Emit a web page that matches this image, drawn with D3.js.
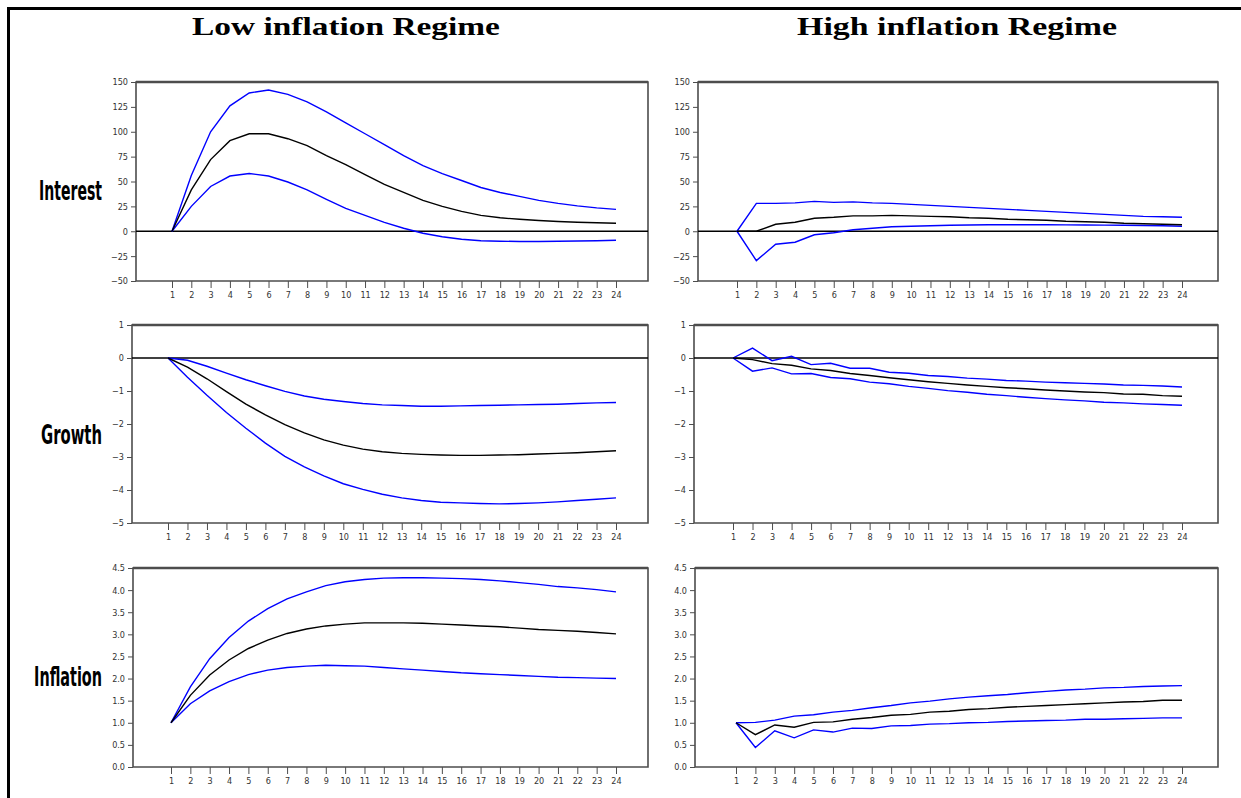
<!DOCTYPE html>
<html>
<head>
<meta charset="utf-8">
<script src="https://cdn.jsdelivr.net/npm/d3@7"></script>
<style>
  body { margin: 0; background: #fff; }
  svg { display: block; }
</style>
</head>
<body>
<svg id="chart" width="1241" height="798"></svg>
<script>
// horizon (periods) and labels
const periods = [1,2,3,4,5,6,7,8,9,10,11,12,13,14,15,16,17,18,19,20,21,22,23,24];
const regimes = ["Low inflation Regime", "High inflation Regime"];
const variables = ["Interest", "Growth", "Inflation"];

const interestTicks = [-50,-25,0,25,50,75,100,125,150];
const growthTicks = [-5,-4,-3,-2,-1,0,1];
const inflationTicks = [0,0.5,1,1.5,2,2.5,3,3.5,4,4.5];

// Interest responses
const intLowMid = [0,41.5,72,91,98,98,93,86,76,67,57,47,39,31,25,20,16,13.5,12,10.8,9.8,9,8.5,8];
const intLowUp  = [0,56,100,126,139,142,137.5,130,120,109,98,87,76,66,58,51,44,39,35,31,28,25.5,23.5,22];
const intLowLo  = [0,25,45,55.5,58,55.5,49.5,41.5,32,23,16,9,3,-2,-5.5,-8,-9.5,-10,-10.3,-10.3,-10,-9.8,-9.5,-9];
const intHighMid = [0,0,7,9,13,14,15.5,15.5,16,15.5,15,14.5,13.5,13,12,11.5,11,10,9.5,9,8,7.5,7,6.5];
const intHighUp  = [0,28,28,28.5,30,29,29.5,28.5,28,27,26,25,24,23,22,21,20,19,18,17,16,15,14.5,14];
const intHighLo  = [0,-29.5,-13,-11,-3.5,-1.5,1.5,3,4.5,5,5.5,6,6.3,6.5,6.5,6.5,6.5,6.4,6.3,6.2,6,5.8,5.5,5];

// Growth responses
const growLowMid = [0,-0.28,-0.63,-1.02,-1.4,-1.72,-2.02,-2.27,-2.48,-2.64,-2.76,-2.84,-2.89,-2.92,-2.94,-2.95,-2.95,-2.94,-2.93,-2.91,-2.89,-2.87,-2.84,-2.81];
const growLowUp  = [0,-0.07,-0.25,-0.46,-0.66,-0.84,-1.01,-1.15,-1.25,-1.32,-1.38,-1.42,-1.44,-1.46,-1.46,-1.45,-1.44,-1.43,-1.42,-1.41,-1.4,-1.38,-1.36,-1.35];
const growLowLo  = [0,-0.58,-1.13,-1.65,-2.13,-2.58,-2.98,-3.3,-3.57,-3.81,-3.98,-4.13,-4.24,-4.32,-4.37,-4.39,-4.41,-4.42,-4.41,-4.39,-4.36,-4.32,-4.28,-4.24];
const growHighMid = [0,-0.05,-0.17,-0.22,-0.33,-0.38,-0.47,-0.53,-0.6,-0.66,-0.72,-0.77,-0.82,-0.86,-0.9,-0.93,-0.97,-1.0,-1.03,-1.05,-1.09,-1.1,-1.14,-1.16];
const growHighUp  = [0,0.3,-0.08,0.05,-0.2,-0.16,-0.31,-0.31,-0.43,-0.46,-0.53,-0.56,-0.61,-0.64,-0.68,-0.7,-0.73,-0.75,-0.77,-0.79,-0.82,-0.83,-0.85,-0.88];
const growHighLo  = [0,-0.4,-0.3,-0.48,-0.47,-0.59,-0.63,-0.73,-0.78,-0.86,-0.92,-0.99,-1.04,-1.1,-1.14,-1.19,-1.23,-1.27,-1.3,-1.34,-1.36,-1.39,-1.41,-1.43];

// Inflation responses
const inflLowMid = [1,1.62,2.08,2.42,2.68,2.87,3.02,3.12,3.19,3.23,3.26,3.26,3.26,3.25,3.23,3.21,3.19,3.17,3.14,3.11,3.09,3.07,3.04,3.01];
const inflLowUp  = [1,1.81,2.45,2.93,3.3,3.58,3.8,3.96,4.1,4.19,4.24,4.27,4.28,4.28,4.27,4.26,4.24,4.21,4.17,4.13,4.08,4.05,4.01,3.96];
const inflLowLo  = [1,1.43,1.72,1.93,2.09,2.19,2.25,2.28,2.3,2.29,2.28,2.25,2.22,2.19,2.16,2.13,2.11,2.09,2.07,2.05,2.03,2.02,2.01,2.0];
const inflHighMid = [1,0.73,0.95,0.9,1.01,1.02,1.08,1.12,1.17,1.19,1.24,1.26,1.3,1.32,1.35,1.37,1.39,1.41,1.43,1.45,1.47,1.48,1.51,1.51];
const inflHighUp  = [1,1.01,1.06,1.15,1.18,1.24,1.28,1.34,1.39,1.45,1.49,1.54,1.58,1.61,1.64,1.68,1.71,1.74,1.76,1.79,1.8,1.82,1.83,1.84];
const inflHighLo  = [1,0.44,0.82,0.66,0.84,0.79,0.88,0.87,0.93,0.94,0.97,0.98,1.0,1.01,1.03,1.04,1.05,1.06,1.08,1.08,1.09,1.1,1.11,1.11];

const panels = [
  [{ticks: interestTicks, fmt: d3.format("d"), mid: intLowMid, up: intLowUp, lo: intLowLo},
   {ticks: interestTicks, fmt: d3.format("d"), mid: intHighMid, up: intHighUp, lo: intHighLo}],
  [{ticks: growthTicks, fmt: d3.format("d"), mid: growLowMid, up: growLowUp, lo: growLowLo},
   {ticks: growthTicks, fmt: d3.format("d"), mid: growHighMid, up: growHighUp, lo: growHighLo}],
  [{ticks: inflationTicks, fmt: d3.format(".1f"), mid: inflLowMid, up: inflLowUp, lo: inflLowLo},
   {ticks: inflationTicks, fmt: d3.format(".1f"), mid: inflHighMid, up: inflHighUp, lo: inflHighLo}]
];

// layout
const rowTop = [82, 325, 568];
const rowBottom = [281, 523, 767];
const boxLeft = [[136, 698], [132, 694], [133, 695]];
const boxRight = [648, 1218];
const firstTick = [[172, 737], [168, 733], [171, 736]];
const lastTick = [616, 1182];
const titleX = [346, 957];
const titleW = [308, 320];
const labelY = [190, 434, 676];
const labelW = [63, 61, 68];

const narrow = '"Liberation Sans Narrow", "DejaVu Sans Condensed", "Arial Narrow", sans-serif';
const boxColor = "#4d4d4d";

const svg = d3.select("#chart");

// outer frame (top + left)
svg.append("line").attr("x1", 7).attr("x2", 1241).attr("y1", 8.5).attr("y2", 8.5)
  .attr("stroke", "#000").attr("stroke-width", 3);
svg.append("line").attr("x1", 8.5).attr("x2", 8.5).attr("y1", 7).attr("y2", 798)
  .attr("stroke", "#000").attr("stroke-width", 3);

// squeeze a text horizontally to a target width
function fitWidth(sel, target, ax, ay) {
  const w = sel.node().getComputedTextLength();
  sel.attr("transform", `translate(${ax},${ay}) scale(${target / w},1)`);
}

// column titles
regimes.forEach((t, i) => {
  const txt = svg.append("text")
    .attr("text-anchor", "middle")
    .style("font-family", '"Liberation Serif", "DejaVu Serif", serif')
    .style("font-weight", "bold")
    .style("font-size", "25px")
    .text(t);
  fitWidth(txt, titleW[i], titleX[i], 35);
});

// row labels
variables.forEach((v, r) => {
  const txt = svg.append("text")
    .attr("text-anchor", "end")
    .style("font-family", narrow)
    .style("font-weight", "bold")
    .style("font-size", "27px")
    .text(v);
  fitWidth(txt, labelW[r], 102, labelY[r] + 10);
});

panels.forEach((row, r) => {
  row.forEach((p, c) => {
    const left = boxLeft[r][c], right = boxRight[c];
    const top = rowTop[r], bottom = rowBottom[r];

    const x = d3.scaleLinear().domain([1, 24]).range([firstTick[r][c], lastTick[c]]);
    const y = d3.scaleLinear().domain(d3.extent(p.ticks)).range([bottom, top]);

    const g = svg.append("g");

    // y axis
    const ya = g.append("g")
      .attr("transform", `translate(${left},0)`)
      .call(d3.axisLeft(y).tickValues(p.ticks).tickFormat(p.fmt).tickSize(5).tickSizeOuter(0));
    ya.select(".domain").remove();
    ya.selectAll(".tick line").attr("stroke", boxColor);
    ya.selectAll(".tick text").attr("x", -8)
      .style("font-family", narrow).style("font-size", "9px").attr("fill", "#333");

    // x axis
    const xa = g.append("g")
      .attr("transform", `translate(0,${bottom})`)
      .call(d3.axisBottom(x).tickValues(periods).tickSize(7).tickSizeOuter(0));
    xa.select(".domain").remove();
    xa.selectAll(".tick line").attr("stroke", boxColor);
    xa.selectAll(".tick text").attr("y", 11)
      .style("font-family", narrow).style("font-size", "9px").attr("fill", "#333");

    // frame of the panel
    g.append("path")
      .attr("d", `M${left},${bottom}V${top}H${right}V${bottom}Z`)
      .attr("fill", "none").attr("stroke", boxColor).attr("stroke-width", 1.6);
    g.append("line")
      .attr("x1", left).attr("x2", right).attr("y1", top).attr("y2", top)
      .attr("stroke", boxColor).attr("stroke-width", 2.4);

    // zero line
    if (y.domain()[0] < 0 && y.domain()[1] > 0) {
      g.append("line")
        .attr("x1", left).attr("x2", right)
        .attr("y1", y(0)).attr("y2", y(0))
        .attr("stroke", "#000").attr("stroke-width", 1.4);
    }

    const line = d3.line()
      .x((d, i) => x(periods[i]))
      .y(d => y(d));

    [["up", "#0000ff"], ["lo", "#0000ff"], ["mid", "#000"]].forEach(([k, col]) => {
      g.append("path")
        .attr("d", line(p[k]))
        .attr("fill", "none")
        .attr("stroke", col)
        .attr("stroke-width", 1.4);
    });
  });
});
</script>
</body>
</html>
